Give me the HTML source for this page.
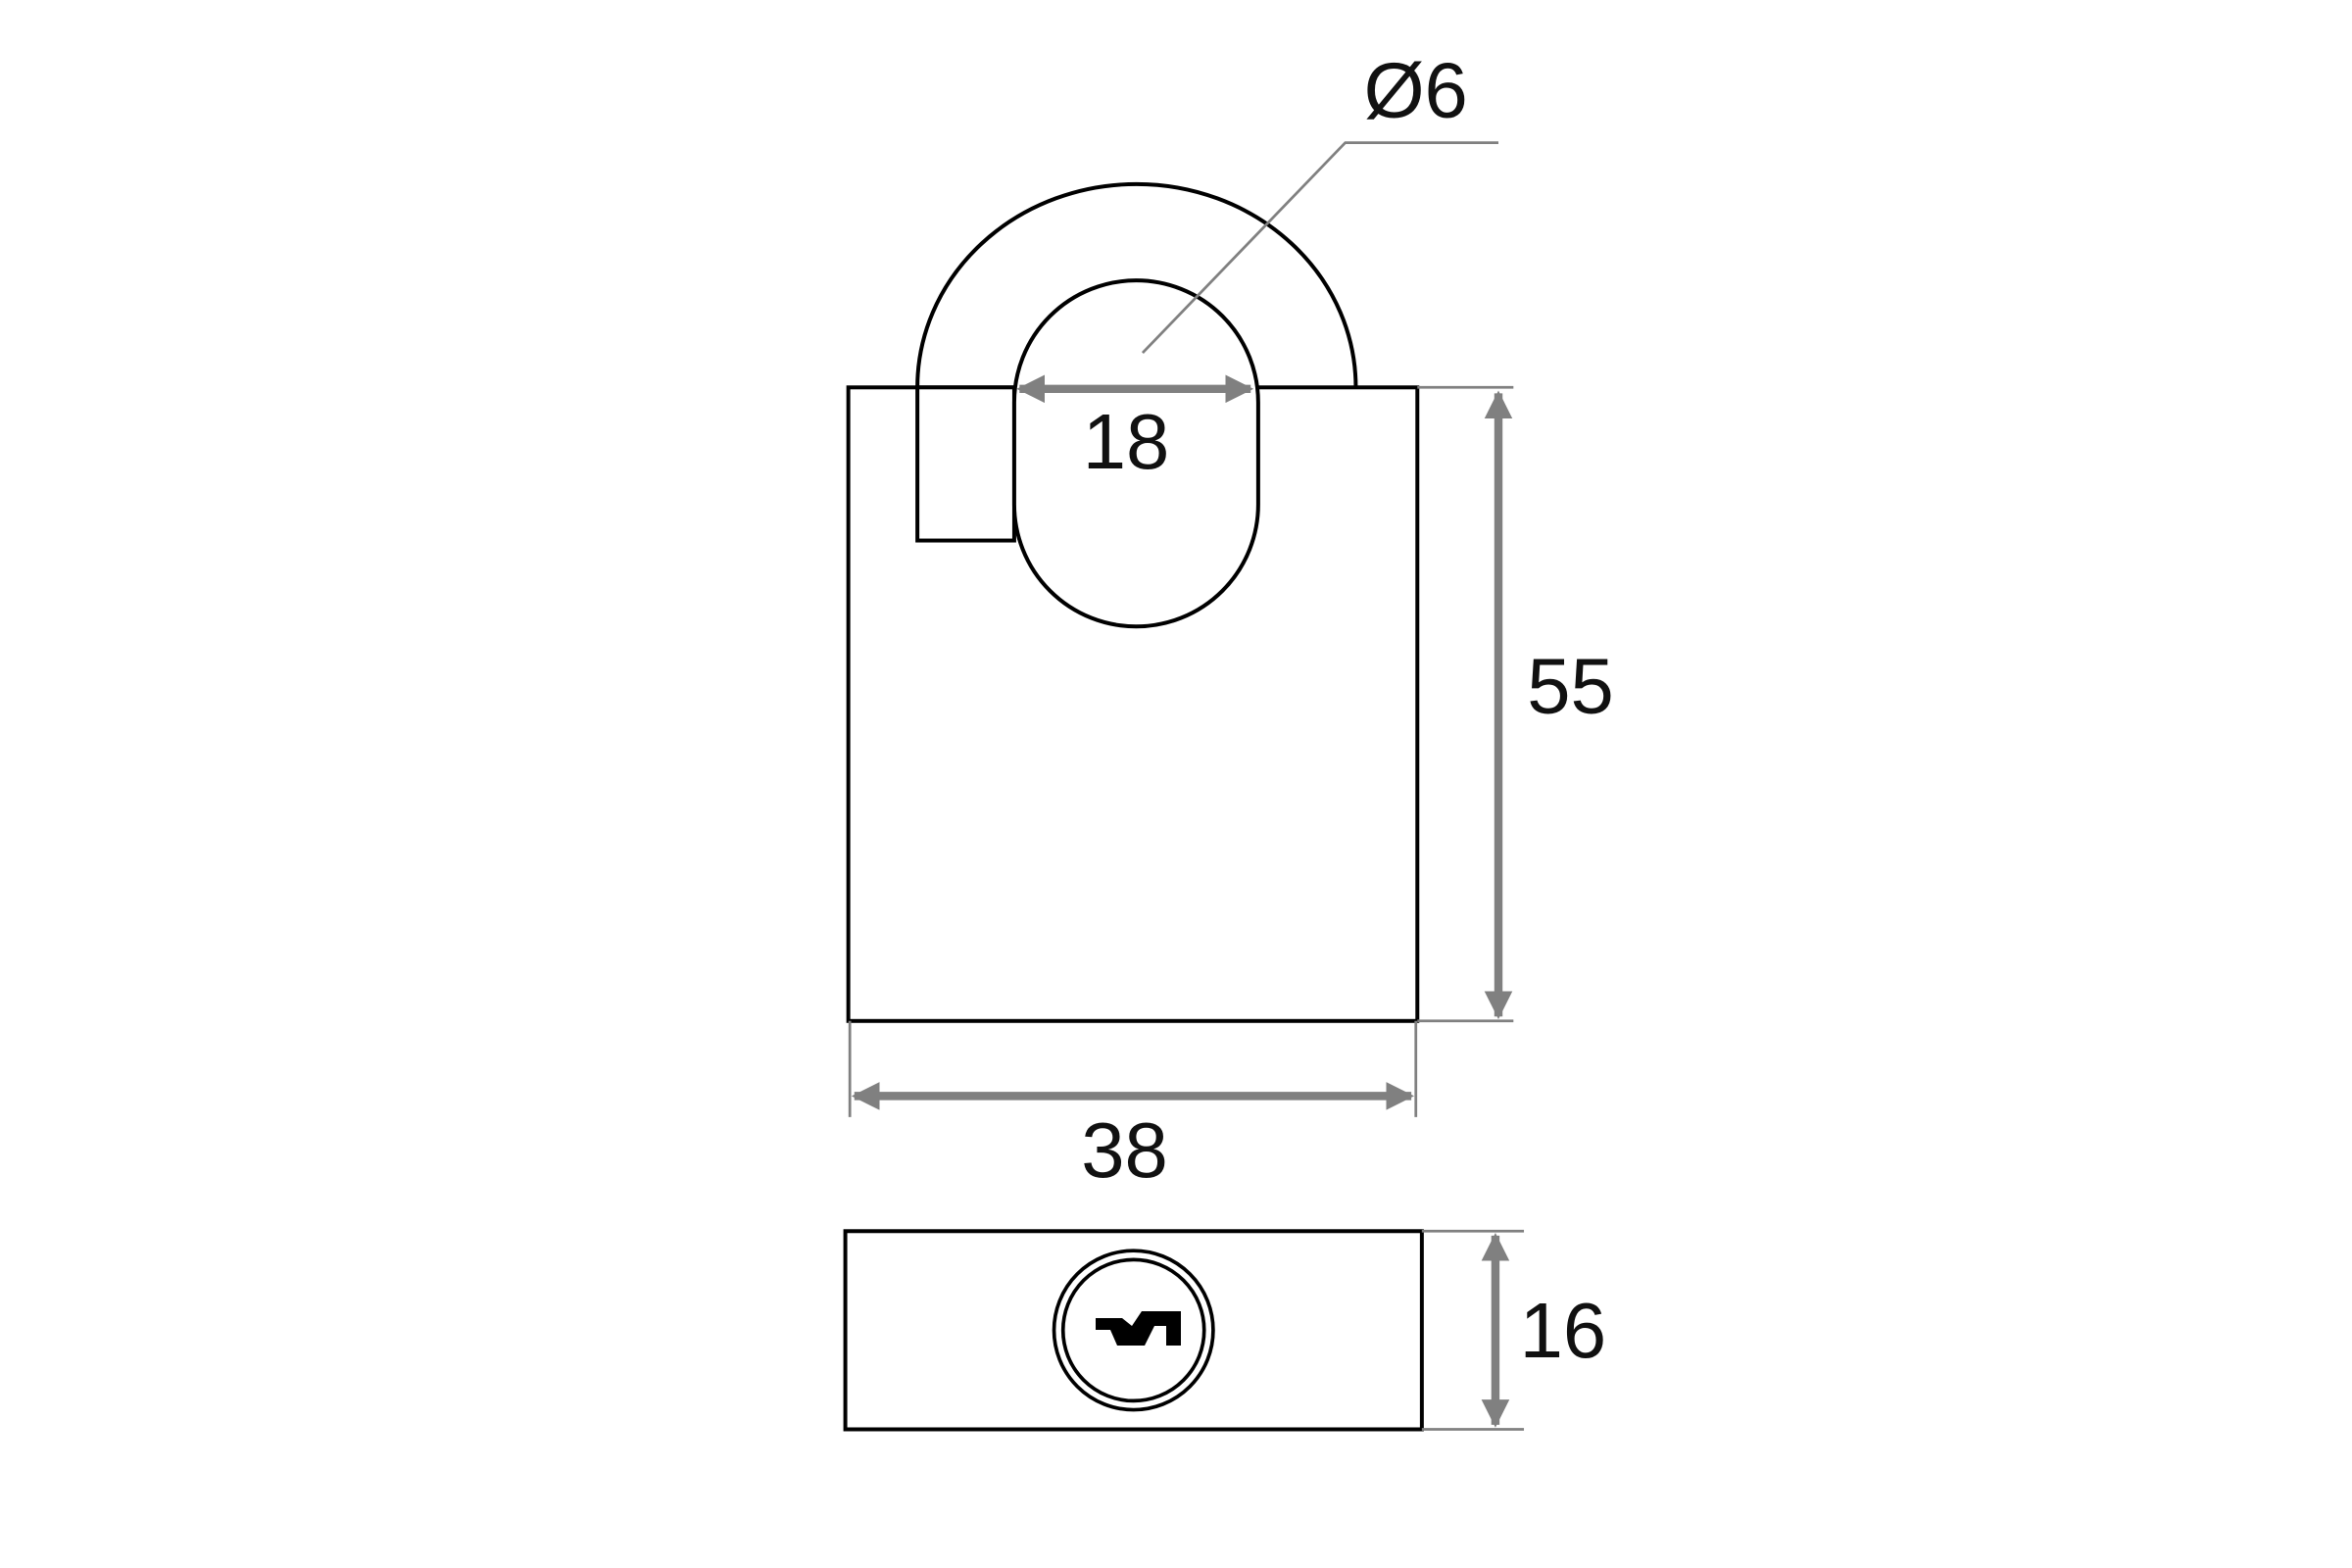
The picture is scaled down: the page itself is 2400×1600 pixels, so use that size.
<!DOCTYPE html>
<html><head><meta charset="utf-8"><style>
html,body{margin:0;padding:0;background:#fff;}
svg{display:block;}
text{font-family:"Liberation Sans",sans-serif;fill:#111;}
</style></head><body>
<svg width="2400" height="1600" viewBox="0 0 2400 1600" xmlns="http://www.w3.org/2000/svg">
<defs>
<marker id="a" viewBox="0 0 10 10" refX="9" refY="5" markerWidth="3.4" markerHeight="3.4" orient="auto-start-reverse" markerUnits="strokeWidth">
<path d="M0,0 L10,5 L0,10 Z" fill="#808080"/></marker>
</defs>
<g transform="translate(-3,-1.5) scale(1.532,1.532)">
<g fill="none" stroke="#000" stroke-width="2.6">
<rect x="567" y="259" width="379" height="422" fill="#fff"/>
<path d="M613,259 A146,135.3 0 1 1 905,259" />
<rect x="613" y="259" width="64.5" height="102" fill="#fff"/>
<path d="M677.5,269 A81.25,81.25 0 0 1 840,269 L840,337 A81.25,81.25 0 0 1 677.5,337 Z" fill="#fff"/>
<rect x="565" y="821" width="384" height="132"/>
<circle cx="757" cy="887" r="53" stroke-width="2.4"/>
<circle cx="757" cy="887" r="47" stroke-width="2.4"/>
</g>
<g stroke="#808080" fill="none">
<path d="M763,236 L898,96 L1000,96" stroke-width="1.8"/>
<line x1="946" y1="259" x2="1010" y2="259" stroke-width="1.8"/>
<line x1="946" y1="681" x2="1010" y2="681" stroke-width="1.8"/>
<line x1="568" y1="681" x2="568" y2="745" stroke-width="1.8"/>
<line x1="945" y1="681" x2="945" y2="745" stroke-width="1.8"/>
<line x1="949" y1="821" x2="1017" y2="821" stroke-width="1.8"/>
<line x1="949" y1="953" x2="1017" y2="953" stroke-width="1.8"/>
<line x1="681" y1="260" x2="835" y2="260" stroke-width="5.5" marker-start="url(#a)" marker-end="url(#a)"/>
<line x1="1000" y1="263" x2="1000" y2="678" stroke-width="5.5" marker-start="url(#a)" marker-end="url(#a)"/>
<line x1="571" y1="731" x2="942" y2="731" stroke-width="5.5" marker-start="url(#a)" marker-end="url(#a)"/>
<line x1="998" y1="824" x2="998" y2="950" stroke-width="5.5" marker-start="url(#a)" marker-end="url(#a)"/>
</g>
<text x="945" y="79" font-size="52" text-anchor="middle">Ø6</text>
<text x="752" y="313" font-size="52" text-anchor="middle">18</text>
<text x="1048" y="476" font-size="52" text-anchor="middle">55</text>
<text x="751" y="785" font-size="52" text-anchor="middle">38</text>
<text x="1043" y="905" font-size="52" text-anchor="middle">16</text>
</g>
<polygon fill="#000" points="1118,1345 1145,1345 1155,1353 1165,1338 1205,1338 1205,1373 1190,1373 1190,1353 1178,1353 1168,1373 1140,1373 1133,1357 1118,1357"/>
</svg>
</body></html>
